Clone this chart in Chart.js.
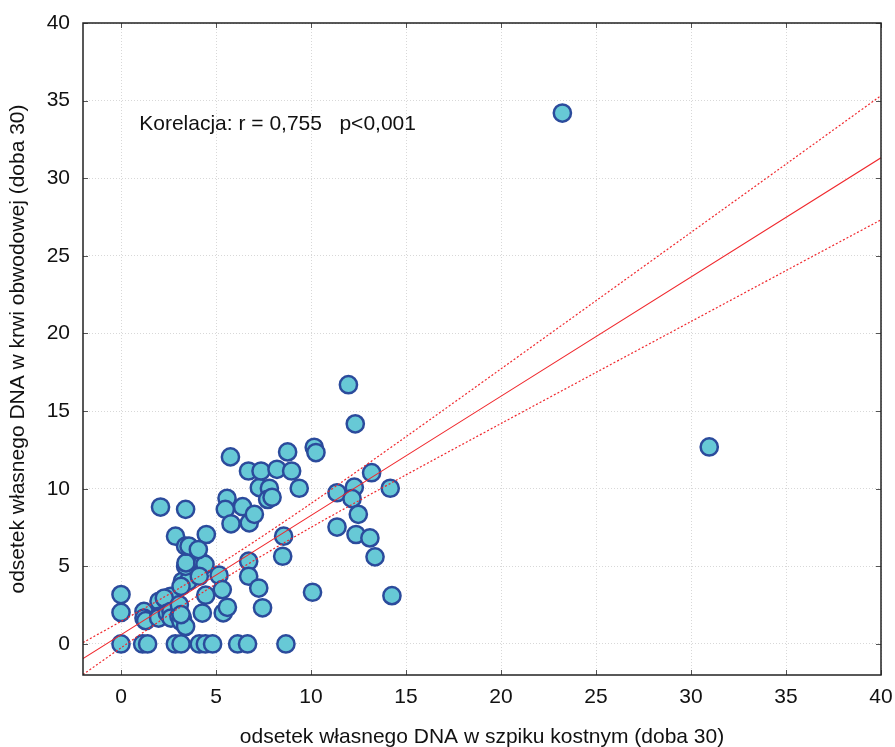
<!DOCTYPE html>
<html>
<head>
<meta charset="utf-8">
<script src="https://cdn.jsdelivr.net/npm/chart.js@4.4.1/dist/chart.umd.min.js"></script>
<style>
  html, body { margin: 0; padding: 0; background: #fff; }
  #wrap { width: 895px; height: 747px; }
</style>
</head>
<body>
<div id="wrap"><canvas id="chart" width="895" height="747"></canvas></div>
<script>
// ------------------------------------------------------------
// DANE: szpik kostny (x) vs krew obwodowa (y), doba 30
// ------------------------------------------------------------
const szpikX = [
  0, 1.14, 1.4, 2.86, 3.16, 4.12, 4.44, 4.82, 6.14, 6.66, 8.68,
  0, 0, 1.21, 1.21, 1.3, 2.0, 2.0, 1.98, 2.35, 2.61, 2.28,
  2.44, 2.63, 2.63, 3.05, 3.23, 3.16, 3.4, 3.07, 3.16,
  3.23, 3.54, 3.16, 3.4, 3.42, 4.3, 4.42, 4.12, 4.46,
  5.16, 5.33, 4.28, 5.38, 5.6,
  2.87, 4.49, 3.4, 3.58, 4.07, 2.08, 3.4,
  5.58, 5.49, 6.4, 5.79, 6.75, 7.02,
  6.72, 6.72, 7.25, 7.45,
  7.28, 7.81, 7.72, 7.95,
  5.76, 6.71, 7.37, 8.21, 8.98, 9.38,
  8.77, 10.17, 10.26, 11.97, 12.33,
  13.19, 14.17, 11.37, 12.28, 12.16, 12.49,
  11.37, 12.37, 13.1, 13.37, 8.56, 8.51,
  10.08, 14.26, 23.23, 30.96
];
const krewY = [
  0, 0, 0, 0, 0, 0, 0, 0, 0, 0, 0,
  3.18, 2.03, 2.1, 1.67, 1.5, 2.75, 1.78, 1.67, 2.86, 3.07, 2.96,
  1.99, 2.1, 1.67, 1.78, 1.67, 1.45, 1.13, 2.53, 1.89,
  4.04, 4.04, 3.71, 5.0, 5.22, 5.22, 5.12, 4.36, 3.14,
  4.43, 3.5, 1.99, 2.0, 2.36,
  6.94, 7.05, 6.3, 6.3, 6.08, 8.82, 8.67,
  9.38, 8.67, 8.84, 7.74, 7.8, 8.35,
  5.33, 4.36, 3.6, 2.33,
  10.07, 10.03, 9.31, 9.45,
  12.05, 11.14, 11.14, 11.25, 11.14, 10.03,
  12.37, 12.67, 12.33, 16.7, 14.18,
  11.03, 10.03, 9.74, 10.1, 9.36, 8.35,
  7.53, 7.05, 6.83, 5.61, 6.94, 5.65,
  3.33, 3.11, 34.2, 12.69
];

// prosta regresji i przedział ufności 95%
const regX = [-2, 40];
const regY = [-0.94, 31.32];
const pasX = [-2, 0, 3, 6, 10, 15, 20, 25, 30, 35, 40];
const pasGora = [0.09, 1.45, 3.54, 5.78, 9.05, 13.35, 17.72, 22.11, 26.51, 30.91, 35.32];
const pasDol = [-1.97, -0.25, 2.27, 4.64, 7.51, 10.89, 14.20, 17.49, 20.77, 24.05, 27.32];

const osTicks = [0, 5, 10, 15, 20, 25, 30, 35, 40];

const tytulX = "odsetek własnego DNA w szpiku kostnym (doba 30)";
const tytulY = "odsetek własnego DNA w krwi obwodowej (doba 30)";
const opisKorelacji = "Korelacja: r = 0,755   p<0,001";

// ------------------------------------------------------------
const FONT = "'Liberation Sans', Arial, sans-serif";
const zip = (xs, ys) => xs.map((x, i) => ({ x, y: ys[i] }));

// ramka, kreski podziałki do środka i opis korelacji
const ramkaPlugin = {
  id: "ramka",
  afterDraw(chart) {
    const { ctx, chartArea: a, scales } = chart;
    const sx = scales.x, sy = scales.y;
    ctx.save();
    ctx.strokeStyle = "#555";
    ctx.lineWidth = 1;
    ctx.beginPath();
    for (const v of osTicks) {
      const px = Math.round(sx.getPixelForValue(v)) + 0.5;
      ctx.moveTo(px, a.bottom); ctx.lineTo(px, a.bottom - 5);
      ctx.moveTo(px, a.top); ctx.lineTo(px, a.top + 5);
      const py = Math.round(sy.getPixelForValue(v)) + 0.5;
      ctx.moveTo(a.left, py); ctx.lineTo(a.left + 5, py);
      ctx.moveTo(a.right, py); ctx.lineTo(a.right - 5, py);
    }
    ctx.stroke();

    ctx.strokeStyle = "#222";
    ctx.lineWidth = 1.5;
    ctx.strokeRect(a.left, a.top, a.right - a.left, a.bottom - a.top);

    ctx.fillStyle = "#111";
    ctx.font = "21px " + FONT;
    ctx.textBaseline = "middle";
    ctx.textAlign = "left";
    ctx.fillText(opisKorelacji, sx.getPixelForValue(0.96), sy.getPixelForValue(33.5));
    ctx.restore();
  },
};

const liniaCzerwona = (data, dash) => ({
  type: "scatter",
  data,
  showLine: true,
  borderColor: "#f0282d",
  borderWidth: dash ? 1.2 : 1.1,
  borderDash: dash ? [2, 2] : [],
  pointRadius: 0,
  fill: false,
  tension: 0.3,
  order: 0,
});

new Chart(document.getElementById("chart"), {
  type: "scatter",
  data: {
    datasets: [
      liniaCzerwona(zip(regX, regY), false),
      liniaCzerwona(zip(pasX, pasGora), true),
      liniaCzerwona(zip(pasX, pasDol), true),
      {
        label: "pacjenci",
        data: zip(szpikX, krewY),
        pointRadius: 8.6,
        pointBorderWidth: 2.5,
        pointBackgroundColor: "#67c9d6",
        pointBorderColor: "#2b4b9c",
        order: 1,
      },
    ],
  },
  options: {
    responsive: false,
    animation: false,
    events: [],
    layout: { padding: { left: 0, right: 14, top: 23, bottom: 0 } },
    plugins: { legend: { display: false }, tooltip: { enabled: false } },
    scales: {
      x: {
        type: "linear",
        min: -2,
        max: 40,
        afterBuildTicks: (s) => { s.ticks = osTicks.map((v) => ({ value: v })); },
        afterFit: (s) => { s.height = 72; s.paddingLeft = 0; s.paddingRight = 0; },
        ticks: { color: "#111", font: { family: FONT, size: 21 }, padding: 10 },
        grid: { color: "#d8d8d8", lineWidth: 1, drawTicks: false },
        border: { display: false, dash: [1, 2] },
        title: {
          display: true,
          text: tytulX,
          color: "#111",
          font: { family: FONT, size: 21 },
          padding: { top: 0, bottom: -3 },
        },
      },
      y: {
        type: "linear",
        min: -2,
        max: 40,
        afterBuildTicks: (s) => { s.ticks = osTicks.map((v) => ({ value: v })); },
        afterFit: (s) => { s.width = 83; s.paddingTop = 0; s.paddingBottom = 0; },
        ticks: { color: "#111", font: { family: FONT, size: 21 }, padding: 13 },
        grid: { color: "#d8d8d8", lineWidth: 1, drawTicks: false },
        border: { display: false, dash: [1, 2] },
        title: {
          display: true,
          text: tytulY,
          color: "#111",
          font: { family: FONT, size: 21 },
          padding: { top: 6, bottom: 0 },
        },
      },
    },
  },
  plugins: [ramkaPlugin],
});
</script>
</body>
</html>
